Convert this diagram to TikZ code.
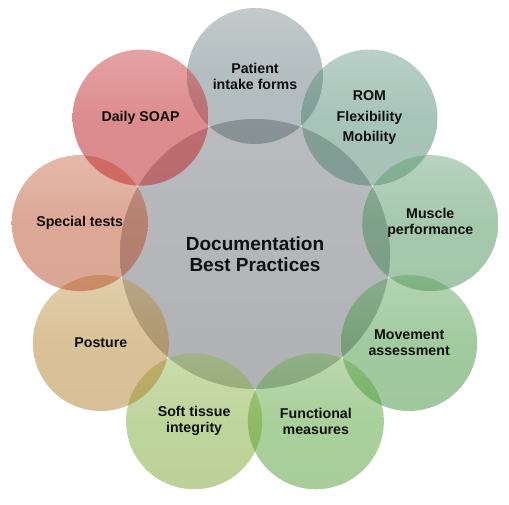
\documentclass[tikz,border=0pt]{standalone}
\usepackage{fontspec}
\setmainfont{Liberation Sans}
\usetikzlibrary{calc}
\definecolor{cPat}{RGB}{58,84,89}
\definecolor{cRom}{RGB}{62,126,102}
\definecolor{cMus}{RGB}{57,135,75}
\definecolor{cMov}{RGB}{48,139,44}
\definecolor{cFun}{RGB}{66,151,33}
\definecolor{cSof}{RGB}{111,162,33}
\definecolor{cPos}{RGB}{173,120,26}
\definecolor{cSpe}{RGB}{182,62,22}
\definecolor{cSoa}{RGB}{195,46,49}
\definecolor{cCen}{RGB}{180,181,185}
\definecolor{txt}{RGB}{15,15,15}
\begin{document}
\begin{tikzpicture}[x=1pt,y=1pt,
  outer/.style={circle, minimum size=136pt, inner sep=0pt, draw=none,
    fill opacity=0.45, text opacity=1, top color=#1!80!white, bottom color=#1!96!black, middle color=#1},
  lab/.style={font=\fontsize{14.2}{16}\selectfont\bfseries, align=center, text=txt},
  biglab/.style={font=\fontsize{19}{21.5}\selectfont\bfseries, align=center, text=txt}]
\useasboundingbox (0,0) rectangle (509,505);
\fill[white] (0,0) rectangle (509,505);
\coordinate (c) at (255,251);
\node[circle, minimum size=270pt, inner sep=0pt, top color=cCen!92!white, bottom color=cCen!98!black] (cen) at (c) {};
\node[outer=cPat, fill opacity=0.38] (pat) at ($(c)+(90:178)$) {};
\node[outer=cRom] (rom) at ($(c)+(50:178)$) {};
\node[outer=cMus] (mus) at ($(c)+(10:178)$) {};
\node[outer=cMov] (mov) at ($(c)+(-30:178)$) {};
\node[outer=cFun] (fun) at ($(c)+(-70:178)$) {};
\node[outer=cSof] (sof) at ($(c)+(-110:178)$) {};
\node[outer=cPos] (pos) at ($(c)+(-150:178)$) {};
\node[outer=cSpe] (spe) at ($(c)+(170:178)$) {};
\node[outer=cSoa, fill opacity=0.55] (soa) at ($(c)+(130:178)$) {};
\node[biglab] (tcen) at (cen) {Documentation\\Best Practices};
\node[lab] (tpat) at (pat) {Patient\\intake forms};
\node[lab, font=\fontsize{14.2}{20.5}\selectfont\bfseries] (trom) at (rom) {ROM\\Flexibility\\Mobility};
\node[lab] (tmus) at (mus) {Muscle\\performance};
\node[lab] (tmov) at (mov) {Movement\\assessment};
\node[lab] (tfun) at (fun) {Functional\\measures};
\node[lab] (tsof) at (sof) {Soft tissue\\integrity};
\node[lab] (tpos) at (pos) {Posture};
\node[lab] (tspe) at (spe) {Special tests};
\node[lab] (tsoa) at (soa) {Daily SOAP};
\end{tikzpicture}
\end{document}
